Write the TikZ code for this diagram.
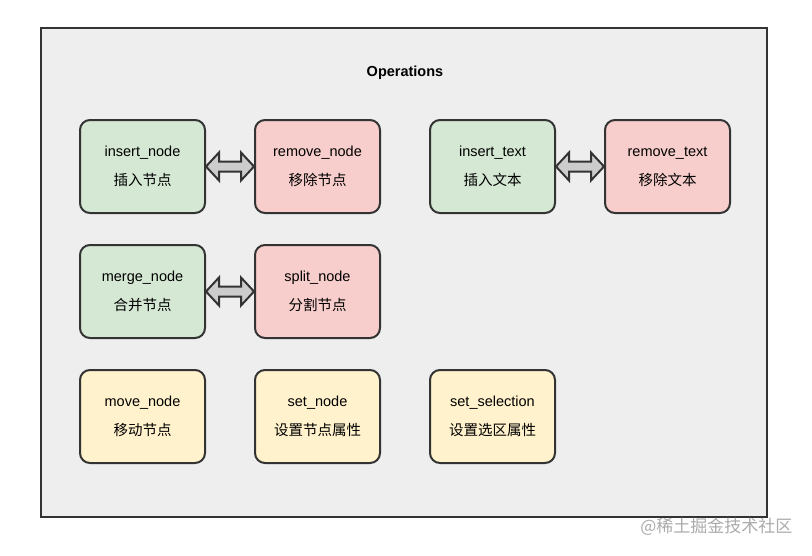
\documentclass[tikz,border=0pt]{standalone}
\usepackage{fontspec}
\setmainfont{Liberation Sans}
\newfontfamily\cjk{Noto Sans CJK SC}
\usetikzlibrary{calc}
\definecolor{dark}{HTML}{333333}
\definecolor{outerbg}{HTML}{EEEEEE}
\definecolor{gfill}{HTML}{D5E8D4}
\definecolor{rfill}{HTML}{F8CECC}
\definecolor{yfill}{HTML}{FFF2CC}
\definecolor{afill}{HTML}{CCCCCC}
\definecolor{wm}{HTML}{ABABAB}
\tikzset{
  opbox/.style={rectangle, rounded corners=10pt, draw=dark, line width=2pt,
    minimum width=125pt, minimum height=93pt, inner sep=0pt, align=center,
    font=\fontsize{14.5}{29}\selectfont},
  gbox/.style={opbox, fill=gfill},
  rbox/.style={opbox, fill=rfill},
  ybox/.style={opbox, fill=yfill},
  dblarrow/.style={draw=dark, line width=2pt, fill=afill, line join=miter}
}
\begin{document}
\begin{tikzpicture}[x=1pt,y=-1pt]
\useasboundingbox (0,0) rectangle (812,555);
\fill[white] (0,0) rectangle (812,555);
\draw[line width=2pt, draw=dark, fill=outerbg] (41,28) rectangle (767,517);
\node[font=\bfseries\fontsize{14.5}{17}\selectfont] (title) at (405,72.5) {Operations};

\node[gbox] (insn) at (142.5,166.5) {insert\_node\\{\cjk 插入节点}};
\node[rbox] (remn) at (317.5,166.5) {remove\_node\\{\cjk 移除节点}};
\node[gbox] (inst) at (492.5,166.5) {insert\_text\\{\cjk 插入文本}};
\node[rbox] (remt) at (667.5,166.5) {remove\_text\\{\cjk 移除文本}};

\node[gbox] (merg) at (142.5,291.5) {merge\_node\\{\cjk 合并节点}};
\node[rbox] (splt) at (317.5,291.5) {split\_node\\{\cjk 分割节点}};

\node[ybox] (move) at (142.5,416.5) {move\_node\\{\cjk 移动节点}};
\node[ybox] (setn) at (317.5,416.5) {set\_node\\{\cjk 设置节点属性}};
\node[ybox] (sets) at (492.5,416.5) {set\_selection\\{\cjk 设置选区属性}};

\foreach \a/\b in {insn/remn, inst/remt, merg/splt}{
  \draw[dblarrow] (\a.east) -- ++(13,-14) -- ++(0,9) -- ($(\b.west)+(-13,-5)$)
    -- ++(0,-9) -- (\b.west) -- ++(-13,14) -- ++(0,-9) -- ($(\a.east)+(13,5)$)
    -- ++(0,9) -- cycle;
}

\node[text=wm, font=\cjk\fontsize{17}{20}\selectfont, anchor=east] (wmark) at (796,527) {@稀土掘金技术社区};
\end{tikzpicture}
\end{document}
